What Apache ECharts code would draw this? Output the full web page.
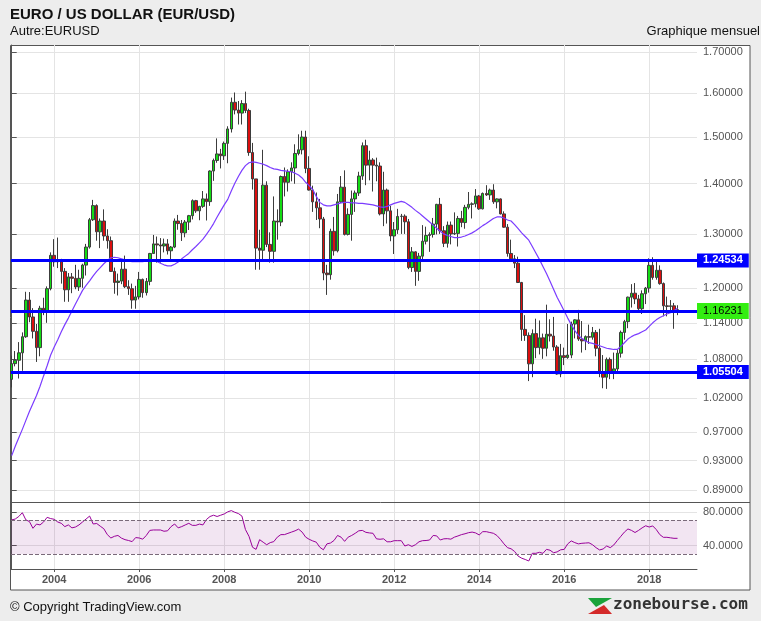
<!DOCTYPE html>
<html>
<head>
<meta charset="utf-8">
<script src="https://cdn.jsdelivr.net/npm/echarts@6/dist/echarts.min.js"></script>
<style>
html,body{margin:0;padding:0;background:#ededed;}
#c{width:761px;height:621px;}
</style>
</head>
<body>
<div id="c"></div>
<script>
// Monthly EUR/USD, Jan 2003 .. Sep 2018 (index 0 = Jan 2003)
const firstOpen = 1.0487;
const closes = [
1.0733,1.0787,1.0906,1.1168,1.1790,1.1499,1.1258,1.0990,1.1648,1.1586,1.1990,1.2595,
1.2475,1.2485,1.2300,1.1970,1.2200,1.2175,1.2020,1.2175,1.2415,1.2750,1.3275,1.3555,
1.3040,1.3250,1.2960,1.2870,1.2300,1.2100,1.2125,1.2340,1.2025,1.1990,1.1790,1.1845,
1.2155,1.1920,1.2120,1.2630,1.2810,1.2790,1.2770,1.2810,1.2680,1.2750,1.3250,1.3200,
1.3020,1.3230,1.3355,1.3655,1.3450,1.3540,1.3690,1.3635,1.4265,1.4490,1.4630,1.4590,
1.4860,1.5180,1.5790,1.5610,1.5540,1.5760,1.5600,1.4660,1.4100,1.2730,1.2690,1.3970,
1.2800,1.2670,1.3250,1.3230,1.4150,1.4030,1.4250,1.4330,1.4640,1.4720,1.5000,1.4320,
1.3870,1.3630,1.3510,1.3290,1.2270,1.2240,1.3050,1.2680,1.3630,1.3930,1.2990,1.3380,
1.3690,1.3810,1.4160,1.4810,1.4390,1.4500,1.4390,1.4370,1.3390,1.3870,1.3450,1.2960,
1.3080,1.3340,1.3345,1.3235,1.2370,1.2660,1.2300,1.2580,1.2860,1.2970,1.2990,1.3190,
1.3580,1.3060,1.2820,1.3170,1.3000,1.3010,1.3300,1.3220,1.3520,1.3580,1.3590,1.3750,
1.3490,1.3800,1.3770,1.3870,1.3630,1.3690,1.3390,1.3130,1.2630,1.2530,1.2450,1.2100,
1.1290,1.1190,1.0730,1.1220,1.0990,1.1150,1.0980,1.1210,1.1180,1.1000,1.0570,1.0860,
1.0830,1.0870,1.1380,1.1450,1.1130,1.1100,1.1170,1.1160,1.1240,1.0980,1.0590,1.0520,
1.0800,1.0580,1.0650,1.0900,1.1240,1.1420,1.1840,1.1910,1.1810,1.1640,1.1900,1.2000,
1.2410,1.2190,1.2320,1.2080,1.1690,1.1680,1.1690,1.1600,1.1623
];
const opens = [firstOpen].concat(closes.slice(0, closes.length - 1));
const highs = [
1.0860,1.0935,1.1080,1.1240,1.1935,1.1930,1.1650,1.1380,1.1690,1.1830,1.2030,1.2650,
1.2900,1.2930,1.2530,1.2360,1.2270,1.2270,1.2420,1.2330,1.2440,1.2810,1.3310,1.3670,
1.3580,1.3300,1.3480,1.3090,1.2950,1.2370,1.2260,1.2500,1.2590,1.2140,1.2080,1.2040,
1.2290,1.2170,1.2180,1.2640,1.2980,1.2950,1.2920,1.2910,1.2900,1.2770,1.3300,1.3370,
1.3270,1.3270,1.3370,1.3680,1.3670,1.3550,1.3850,1.3800,1.4280,1.4530,1.4970,1.4740,
1.4900,1.5240,1.5900,1.6020,1.5820,1.5840,1.6040,1.5640,1.4870,1.4100,1.3080,1.4720,
1.4050,1.3030,1.3740,1.3480,1.4170,1.4340,1.4300,1.4450,1.4840,1.5060,1.5140,1.5140,
1.4580,1.3960,1.3820,1.3690,1.3330,1.2420,1.3100,1.3330,1.3790,1.4160,1.4280,1.3500,
1.3860,1.3860,1.4250,1.4880,1.4940,1.4700,1.4540,1.4550,1.4450,1.4250,1.3900,1.3550,
1.3230,1.3490,1.3390,1.3380,1.3290,1.2750,1.2670,1.2640,1.3170,1.3140,1.3030,1.3310,
1.3590,1.3710,1.3150,1.3240,1.3240,1.3420,1.3350,1.3450,1.3570,1.3830,1.3620,1.3890,
1.3770,1.3820,1.3970,1.3900,1.3990,1.3700,1.3700,1.3440,1.3190,1.2890,1.2600,1.2570,
1.2110,1.1530,1.1240,1.1290,1.1470,1.1440,1.1220,1.1710,1.1460,1.1500,1.1030,1.1050,
1.0990,1.1380,1.1420,1.1460,1.1620,1.1430,1.1190,1.1370,1.1330,1.1280,1.1300,1.0870,
1.0830,1.0830,1.0910,1.0950,1.1270,1.1450,1.1850,1.2070,1.2090,1.1880,1.1960,1.2020,
1.2540,1.2560,1.2480,1.2410,1.2100,1.1850,1.1790,1.1740,1.1700
];
const lows = [
1.0363,1.0690,1.0500,1.0620,1.1150,1.1410,1.1140,1.0760,1.0850,1.1530,1.1400,1.1960,
1.2385,1.2360,1.2080,1.1760,1.1760,1.1910,1.1980,1.1950,1.2005,1.2225,1.2720,1.3250,
1.2870,1.2730,1.2870,1.2720,1.2290,1.1900,1.1870,1.2070,1.2000,1.1880,1.1640,1.1640,
1.1800,1.1830,1.1870,1.2050,1.2630,1.2460,1.2460,1.2650,1.2610,1.2480,1.2730,1.3080,
1.2865,1.2935,1.3075,1.3280,1.3410,1.3265,1.3510,1.3260,1.3550,1.4060,1.4440,1.4320,
1.4500,1.4430,1.5100,1.5510,1.5280,1.5280,1.5540,1.4590,1.3880,1.2330,1.2330,1.2480,
1.2750,1.2460,1.2460,1.2890,1.3150,1.3740,1.3840,1.4050,1.4000,1.4600,1.4620,1.4220,
1.3860,1.3430,1.3270,1.3110,1.2140,1.1880,1.2150,1.2590,1.2650,1.3610,1.2970,1.2970,
1.2870,1.3430,1.3750,1.4080,1.3970,1.4070,1.3840,1.4050,1.3360,1.3150,1.3200,1.2860,
1.2620,1.3000,1.3000,1.3000,1.2340,1.2290,1.2040,1.2130,1.2500,1.2800,1.2660,1.2930,
1.2990,1.3000,1.2750,1.2740,1.2800,1.2980,1.2760,1.3130,1.3100,1.3480,1.3300,1.3520,
1.3470,1.3480,1.3750,1.3670,1.3590,1.3500,1.3380,1.3120,1.2570,1.2500,1.2360,1.2090,
1.1100,1.1100,1.0460,1.0520,1.0820,1.0880,1.0810,1.0850,1.1090,1.0940,1.0560,1.0520,
1.0710,1.0810,1.0820,1.1140,1.1100,1.0910,1.0950,1.1050,1.1120,1.0850,1.0520,1.0350,
1.0340,1.0490,1.0490,1.0570,1.0830,1.1120,1.1310,1.1660,1.1720,1.1570,1.1550,1.1720,
1.1920,1.2150,1.2150,1.2060,1.1510,1.1510,1.1580,1.1300,1.1530
];
// moving average
const movingAvg = [
0.937,0.950,0.962,0.974,0.987,1.000,1.012,1.024,1.038,1.054,1.070,1.087,
1.100,1.112,1.125,1.137,1.148,1.160,1.172,1.184,1.196,1.205,1.213,1.222,
1.230,1.237,1.244,1.250,1.255,1.256,1.255,1.253,1.251,1.249,1.248,1.248,
1.248,1.248,1.249,1.250,1.250,1.248,1.245,1.242,1.240,1.240,1.243,1.247,
1.253,1.258,1.263,1.270,1.276,1.283,1.290,1.299,1.309,1.320,1.333,1.345,
1.357,1.368,1.385,1.401,1.415,1.428,1.438,1.444,1.446,1.445,1.443,1.441,
1.438,1.434,1.431,1.430,1.428,1.427,1.426,1.425,1.422,1.418,1.412,1.403,
1.396,1.388,1.374,1.362,1.357,1.355,1.355,1.357,1.359,1.361,1.362,1.362,
1.361,1.361,1.360,1.360,1.359,1.358,1.357,1.355,1.353,1.352,1.354,1.357,
1.360,1.362,1.364,1.362,1.357,1.352,1.346,1.341,1.335,1.329,1.323,1.317,
1.311,1.305,1.300,1.297,1.295,1.293,1.293,1.294,1.296,1.299,1.302,1.306,
1.311,1.316,1.320,1.325,1.330,1.333,1.333,1.331,1.327,1.325,1.318,1.310,
1.302,1.295,1.288,1.276,1.264,1.252,1.239,1.226,1.212,1.198,1.184,1.172,
1.160,1.148,1.137,1.127,1.119,1.114,1.110,1.107,1.106,1.104,1.102,1.100,
1.098,1.097,1.096,1.096,1.101,1.107,1.113,1.117,1.120,1.122,1.125,1.128,
1.134,1.140,1.145,1.149,1.152,1.155,1.157,1.161,1.165
];
// RSI
const rsiValues = [
70.5,71.5,74.5,79,70.5,68.5,60.5,65.5,64.5,68,73.5,72,
71.2,68,66.4,62.5,64.5,61,62,64.5,68,71.5,75,65.6,
66.2,63,60,53,49,51,52,48.8,47,46,44.7,49.5,
49,47.6,52,58,58.5,58.5,58.5,57,57.5,62.5,65.6,61,
62.5,64.5,66.4,64,64,65.5,64.5,71,74.5,76,74.5,76,
77.5,80,81.5,79.5,78,75,59,51,38,35.5,47,44,
41,43.5,44.7,50,53,53,54.5,56,57.5,59.5,56,50,
47.4,45.5,44,38,35,42,43,46,52,50,45,50,
52,54.6,57.5,58,55.7,55,54.6,48,47.5,48,44.5,44.5,
45.8,45.8,45.8,39.5,41,39,41,44.5,45.8,46,46.6,52,
51.5,46.6,48,48.2,47.6,50,51.4,53,54,55.3,56,55,
52.6,56.5,56.5,55.5,54.6,52,47.4,42,37.5,36.2,33,27.5,
25,23.5,21.7,30.8,30.8,32,30.8,35.5,34.5,31.5,32.5,35,
35.5,42,45.5,43.5,42,42.7,43,43.3,41,37.5,34.8,36,
39.5,37.5,40.7,46,51,56,59.7,58,55.5,58,61,63.5,
62,63.3,59,53,49.8,49.8,49.2,48.6,48.6
];
const yearTickIdx = [12, 36, 60, 84, 108, 132, 156, 180];
const yearLabels = ['2004', '2006', '2008', '2010', '2012', '2014', '2016', '2018'];
const priceTicks = [1.70, 1.60, 1.50, 1.40, 1.30, 1.20, 1.14, 1.08, 1.02, 0.97, 0.93, 0.89];
const rsiTicks = [40, 80];
const levels = [1.24534, 1.16231, 1.05504];
const levelLabelBg = ['#0000ff', '#33ee11', '#0000ff'];
const levelLabelFg = ['#ffffff', '#000000', '#ffffff'];
const rsiBand = [30, 70];

const FONT = '"Liberation Sans", Arial, Helvetica, sans-serif';
const candleData = closes.map((c, i) => [i, opens[i], c, lows[i], highs[i]]);
const maData = movingAvg.map((v, i) => [i, v]);
const rsiData = rsiValues.map((v, i) => [i, v]);
const X_MIN = -0.2, X_MAX = 193.5;

const chart = echarts.init(document.getElementById('c'));
const option = {
  backgroundColor: '#ededed',
  animation: false,
  textStyle: { fontFamily: FONT },
  graphic: [
    { type: 'rect', z: -10, silent: true, shape: { x: 10.5, y: 45.5, width: 739.5, height: 544.5 }, style: { fill: '#ffffff', stroke: '#555555', lineWidth: 1 } },
    { type: 'line', z: 100, silent: true, shape: { x1: 11, y1: 502.5, x2: 750, y2: 502.5 }, style: { stroke: '#555555', lineWidth: 1 } },
    { type: 'text', x: 10, y: 15, style: { text: 'EURO / US DOLLAR (EUR/USD)', font: 'bold 15px ' + FONT, fill: '#111111', verticalAlign: 'middle' } },
    { type: 'text', x: 10, y: 31, style: { text: 'Autre:EURUSD', font: '13px ' + FONT, fill: '#111111', verticalAlign: 'middle' } },
    { type: 'text', x: 760, y: 31, style: { text: 'Graphique mensuel', font: '13px ' + FONT, fill: '#111111', align: 'right', verticalAlign: 'middle' } },
    { type: 'text', x: 10, y: 607, style: { text: '\u00a9 Copyright TradingView.com', font: '13px ' + FONT, fill: '#111111', verticalAlign: 'middle' } },
    { type: 'polygon', silent: true, shape: { points: [[588, 598], [612, 598], [596, 607]] }, style: { fill: '#1aa33a' } },
    { type: 'polygon', silent: true, shape: { points: [[588, 614], [612, 614], [604, 605]] }, style: { fill: '#d42a2a' } },
    { type: 'text', x: 613, y: 605, style: { text: 'zonebourse.com', font: 'bold 16px "DejaVu Sans Mono", monospace', fill: '#333333', verticalAlign: 'middle' } }
  ],
  grid: [
    { left: 11, top: 45, width: 686, height: 457 },
    { left: 11, top: 502, width: 686, height: 67 }
  ],
  xAxis: [
    {
      type: 'value', gridIndex: 0, min: X_MIN, max: X_MAX,
      axisLine: { show: false },
      axisTick: { show: false, customValues: yearTickIdx },
      axisLabel: { show: false, customValues: yearTickIdx },
      splitLine: { show: true, lineStyle: { color: '#e4e4e4', width: 1 } }
    },
    {
      type: 'value', gridIndex: 1, min: X_MIN, max: X_MAX,
      axisLine: { show: true, lineStyle: { color: '#555555', width: 1 } },
      axisTick: { show: true, length: 3, customValues: yearTickIdx, lineStyle: { color: '#555555' } },
      axisLabel: {
        customValues: yearTickIdx,
        formatter: (v) => { const k = yearTickIdx.indexOf(Math.round(v)); return k >= 0 ? yearLabels[k] : ''; },
        color: '#555555', fontWeight: 'bold', fontSize: 11, fontFamily: FONT, margin: 5
      },
      splitLine: { show: true, lineStyle: { color: '#e4e4e4', width: 1 } }
    }
  ],
  yAxis: [
    {
      type: 'log', gridIndex: 0, position: 'right', min: 0.87492, max: 1.7184,
      axisLine: { show: true, lineStyle: { color: '#555555', width: 1 } },
      axisTick: { show: true, length: 5, customValues: priceTicks, lineStyle: { color: '#555555' } },
      axisLabel: { customValues: priceTicks, formatter: (v) => Number(v).toFixed(5), color: '#555555', fontSize: 11, fontFamily: FONT, margin: 6 },
      splitLine: { show: true, lineStyle: { color: '#e4e4e4', width: 1 } }
    },
    {
      type: 'value', gridIndex: 1, position: 'right', min: 12.2, max: 91.7,
      axisLine: { show: true, lineStyle: { color: '#555555', width: 1 } },
      axisTick: { show: true, length: 5, customValues: rsiTicks, lineStyle: { color: '#555555' } },
      axisLabel: { customValues: rsiTicks, formatter: (v) => Number(v).toFixed(4), color: '#555555', fontSize: 11, fontFamily: FONT, margin: 6 },
      splitLine: { show: true, lineStyle: { color: '#e4e4e4', width: 1 } }
    }
  ],
  series: [
    {
      type: 'candlestick', xAxisIndex: 0, yAxisIndex: 0, data: candleData,
      barWidth: 3, clip: false,
      itemStyle: { color: '#14dc14', color0: '#dc0f0f', borderColor: '#3c3c3c', borderColor0: '#3c3c3c', borderWidth: 1 },
      markLine: {
        silent: true, animation: false, symbol: ['none', 'none'],
        lineStyle: { color: '#0000ff', width: 3, type: 'solid' },
        data: levels.map((lv, k) => ({
          yAxis: lv,
          label: {
            show: true, position: 'end', distance: 0,
            formatter: lv.toFixed(5),
            backgroundColor: levelLabelBg[k], color: levelLabelFg[k],
            fontWeight: k === 1 ? 'normal' : 'bold', fontSize: 11, fontFamily: FONT,
            padding: k === 1 ? [3, 6, 2, 6] : [2, 6, 1, 6]
          }
        }))
      }
    },
    {
      type: 'line', xAxisIndex: 0, yAxisIndex: 0, data: maData,
      showSymbol: false, symbol: 'none',
      lineStyle: { color: '#7b3cff', width: 1.2 }
    },
    {
      type: 'line', xAxisIndex: 1, yAxisIndex: 1, data: rsiData,
      showSymbol: false, symbol: 'none',
      lineStyle: { color: '#990099', width: 1 },
      markArea: {
        silent: true,
        itemStyle: { color: 'rgba(128,0,128,0.10)' },
        data: [[{ yAxis: rsiBand[0] }, { yAxis: rsiBand[1] }]]
      },
      markLine: {
        silent: true, symbol: ['none', 'none'],
        lineStyle: { color: '#7a6a7a', width: 1, type: 'dashed' },
        label: { show: false },
        data: rsiBand.map(v => ({ yAxis: v }))
      }
    }
  ]
};
chart.setOption(option);
</script>
</body>
</html>
